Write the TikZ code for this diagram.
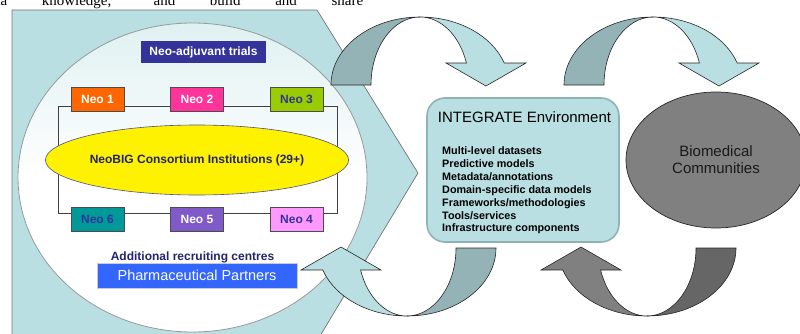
\documentclass[tikz,border=0pt]{standalone}
\usepackage{fontspec}
\setmainfont{Liberation Sans}
\newfontfamily\pagefont{Liberation Serif}
\usetikzlibrary{shapes.geometric,positioning}
\definecolor{palecyan}{HTML}{B9DFE2}
\definecolor{darkcyan}{HTML}{94B3B6}
\definecolor{frontgray}{HTML}{808080}
\definecolor{backgray}{HTML}{666666}
\definecolor{trialblue}{HTML}{333399}
\definecolor{navytext}{HTML}{23236E}
\definecolor{neoorange}{HTML}{FF6600}
\definecolor{neopink}{HTML}{FF3399}
\definecolor{neolime}{HTML}{99CC00}
\definecolor{neoteal}{HTML}{009999}
\definecolor{neopurple}{HTML}{7F5AC8}
\definecolor{neoviolet}{HTML}{FF99FF}
\definecolor{partnerblue}{HTML}{3366FF}
\definecolor{envborder}{HTML}{8DB3B7}
\newcommand*{\px}[1]{\fontsize{#1}{#1}\selectfont}
% curved block arrow: x, y, rotation, front colour, back colour
\newcommand*{\bendarrow}[5]{%
  \begin{scope}[shift={(#1,#2)},rotate=#3]
    \filldraw[fill=#5,draw=black!85,line width=0.6pt]
      (-89,0) arc[start angle=180,end angle=90,x radius=89,y radius=68]
      arc[start angle=90,end angle=180,x radius=49,y radius=68] -- cycle;
    \filldraw[fill=#4,draw=black!85,line width=0.6pt]
      (0,68) arc[start angle=90,end angle=18.87,x radius=89,y radius=68]
      -- (106,22) -- (66,-1) -- (26,22) -- (46.4,22)
      arc[start angle=18.87,end angle=90,x radius=49,y radius=68] -- cycle;
  \end{scope}}
\tikzset{
  neobox/.style={draw=black!70,minimum width=53pt,minimum height=24pt,
    inner sep=0pt,font=\bfseries\px{12}},
}

\begin{document}
\begin{tikzpicture}[x=1pt,y=1pt]
\useasboundingbox (0,0) rectangle (800,333);
\clip (0,0) rectangle (800,333);

% Text of the page above the figure
\node[anchor=base west,inner sep=0pt,font=\pagefont\px{15}] (pagetext) at (-18,327)
  {\makebox[381pt][s]{data knowledge, and build and share}};

% Draw chevron and big ellipse
\filldraw[fill=palecyan,draw=black!55,line width=0.7pt]
  (12,323) -- (317,323) -- (418,160) -- (320,-3) -- (12,-3) -- cycle;
\draw[draw=black!40,line width=0.8pt,top color=palecyan!45!white,bottom color=white,
  middle color=white] (192.5,155.5) ellipse[x radius=174.5,y radius=154.5];

% Trials, frame and Neo boxes
\node[fill=trialblue,text=white,font=\bfseries\px{12},minimum width=125pt,
  minimum height=22pt,inner sep=0pt] (trials) at (203.5,281) {Neo-adjuvant trials};
\draw[black!75,line width=0.6pt] (58,120) rectangle (337,227);
\node[neobox,fill=neoorange,text=white] (neo1) at (97.5,234) {Neo 1};
\node[neobox,fill=neopink,text=white] (neo2) at (197,234) {Neo 2};
\node[neobox,fill=neolime,text=trialblue] (neo3) at (296.5,234) {Neo 3};
\node[neobox,fill=neoviolet,text=trialblue] (neo4) at (296.5,113.5) {Neo 4};
\node[neobox,fill=neopurple,text=white] (neo5) at (197,113.5) {Neo 5};
\node[neobox,fill=neoteal,text=trialblue] (neo6) at (97.5,113.5) {Neo 6};
\node[ellipse,fill=yellow,draw=navytext!80,line width=0.6pt,minimum width=266pt,
  minimum height=70pt,inner sep=0pt,text=navytext,font=\bfseries\px{12}]
  (neobig) at (197,173) {NeoBIG Consortium Institutions (29+)};

% Partners
\node[text=navytext,font=\bfseries\px{12},inner sep=0pt] (centres) at (192.5,76)
  {Additional recruiting centres};
\node[fill=partnerblue,draw=white!80!black,text=white,font=\px{14.5},
  minimum width=200pt,minimum height=25pt,inner sep=0pt] (partners) at (197,57.5)
  {Pharmaceutical Partners};

% Curved arrows
\bendarrow{420}{248}{0}{palecyan}{darkcyan}
\bendarrow{653}{248}{0}{palecyan}{darkcyan}
\bendarrow{407}{85}{180}{palecyan}{darkcyan}
\bendarrow{647}{85}{180}{frontgray}{backgray}

% INTEGRATE environment
\node[draw=envborder,fill=palecyan,line width=1.6pt,rounded corners=18pt,
  minimum width=192pt,minimum height=144pt] (integrate) at (523,163) {};
\node[anchor=base,inner sep=0pt,font=\px{15}] (envtitle) at (524.5,211)
  {INTEGRATE Environment};
\node[anchor=north west,inner sep=0pt,align=left,font=\bfseries\fontsize{10.8}{12.85}\selectfont]
  (envlist) at (442,186.2) {Multi-level datasets\\Predictive models\\Metadata/annotations\\
  Domain-specific data models\\Frameworks/methodologies\\Tools/services\\
  Infrastructure components};

% Biomedical communities
\node[ellipse,fill=frontgray,draw=black!85,line width=0.7pt,minimum width=180pt,
  minimum height=136pt,inner sep=0pt,align=center,text=black!90,
  font=\fontsize{15}{17}\selectfont] (biomed) at (716,173)
  {Biomedical\\Communities};
\end{tikzpicture}
\end{document}
